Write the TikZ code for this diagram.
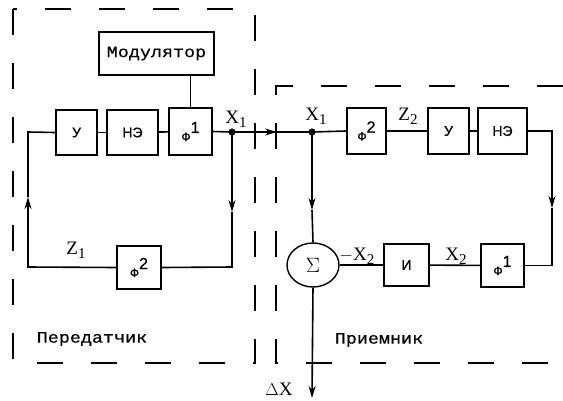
\documentclass[tikz,border=0pt]{standalone}
\usepackage{fontspec}
\setmainfont{Liberation Serif}
\newfontfamily\monof[FakeStretch=1.15,FakeBold=0.5]{Liberation Mono}
\newfontfamily\sansf[FakeBold=0.8]{Liberation Sans}
\usetikzlibrary{arrows.meta,shapes.geometric}
\newcommand\lbl[2]{#1\raisebox{-4pt}{\fontsize{15}{15}\selectfont #2}}
\newcommand\phisup[1]{{\sansf\fontsize{12}{12}\selectfont Ф}\raisebox{8pt}{\fontsize{16}{16}\selectfont #1}}
\begin{document}
\begin{tikzpicture}[x=1pt,y=-1pt,
  box/.style={draw,line width=1.8pt,inner sep=0pt,font=\sansf\fontsize{14}{14}\selectfont},
  wire/.style={line width=1.6pt},
  arr/.style={wire,-{Stealth[length=12pt,width=7pt]}},
  frame/.style={line width=2pt,dash pattern=on 26pt off 28pt},
  txt/.style={inner sep=0pt,font=\fontsize{19}{19}\selectfont},
  mono/.style={inner sep=0pt,font=\monof\fontsize{16}{16}\selectfont}]
\useasboundingbox (0,0) rectangle (563,400);
% frames
\draw[frame] (13,9) rectangle (255,363);
\draw[frame] (563,86) -- (276,86) -- (276,363) -- (563,363);
% boxes
\node[box,minimum width=115pt,minimum height=43pt,font=\monof\fontsize{16}{16}\selectfont] (mod) at (156.5,53.5) {Модулятор};
\node[box,minimum width=41pt,minimum height=45pt] (u1) at (76.5,132.5) {У};
\node[box,minimum width=51pt,minimum height=45pt] (ne1) at (132.5,132.5) {НЭ};
\node[box,minimum width=43pt,minimum height=47pt] (f1a) at (190.5,131.5) {\phisup{1}};
\node[box,minimum width=44pt,minimum height=43pt] (f2a) at (139,267.5) {\phisup{2}};
\node[box,minimum width=39pt,minimum height=46pt] (f2b) at (366.5,131) {\phisup{2}};
\node[box,minimum width=41pt,minimum height=46pt] (u2) at (448.5,131) {У};
\node[box,minimum width=49pt,minimum height=46pt] (ne2) at (502.5,131) {НЭ};
\node[box,ellipse,line width=1.4pt,minimum width=52pt,minimum height=44pt,font=\fontsize{22}{22}\selectfont] (sig) at (313,265) {$\Sigma$};
\node[box,minimum width=45pt,minimum height=42pt] (ii) at (406.5,265) {И};
\node[box,minimum width=43pt,minimum height=43pt] (f1b) at (502.5,265.5) {\phisup{1}};
% dots
\fill (232,132) circle (3.6pt) coordinate (d1);
\fill (312,132) circle (3.6pt) coordinate (d2);
% coordinates
\coordinate (ta) at (277,132);
\coordinate (tb) at (28,197);
\coordinate (ca) at (28,267);
\coordinate (cb) at (28,132);
\coordinate (tc) at (232,212);
\coordinate (cc) at (232,267);
\coordinate (td) at (312,210);
\coordinate (te) at (552,208);
\coordinate (ce) at (552,131);
\coordinate (cf) at (552,265.5);
\coordinate (tg) at (312,398);
% wires transmitter
\draw[wire] (f1a.north |- mod.south) -- (f1a.north);
\draw[wire] (u1) -- (ne1);
\draw[wire] (ne1) -- (f1a);
\draw[wire] (f1a.east) -- (d1);
\draw[arr] (d1) -- (ta);
\draw[wire] (ta) -- (d2);
\draw[arr] (d1) -- (tc);
\draw[wire] (tc) -- (cc) -- (f2a.east);
\draw[arr] (f2a.west) -- (ca) -- (tb);
\draw[wire] (tb) -- (cb) -- (u1.west);
% wires receiver
\draw[wire] (d2) -- (f2b.west);
\draw[wire] (f2b) -- (u2);
\draw[wire] (u2) -- (ne2);
\draw[arr] (ne2.east) -- (ce) -- (te);
\draw[wire] (te) -- (cf) -- (f1b.east);
\draw[wire] (f1b) -- (ii);
\draw[wire] (ii) -- (sig);
\draw[arr] (d2) -- (td);
\draw[wire] (td) -- (sig.north);
\draw[arr] (sig.south) -- (tg);
% labels
\node[txt] (lx1a) at (236,119) {\lbl{X}{1}};
\node[txt] (lx1b) at (316,116) {\lbl{X}{1}};
\node[txt] (lz2) at (408,116) {\lbl{Z}{2}};
\node[txt] (lz1) at (76,250) {\lbl{Z}{1}};
\node[txt] (lmx2) at (357,256) {\lbl{$-$X}{2}};
\node[txt] (lx2) at (456,256) {\lbl{X}{2}};
\node[txt] (ldx) at (279,389) {$\Delta$X};
\node[mono] (tr) at (92,339) {Передатчик};
\node[mono] (rc) at (379,340) {Приемник};
\end{tikzpicture}
\end{document}
